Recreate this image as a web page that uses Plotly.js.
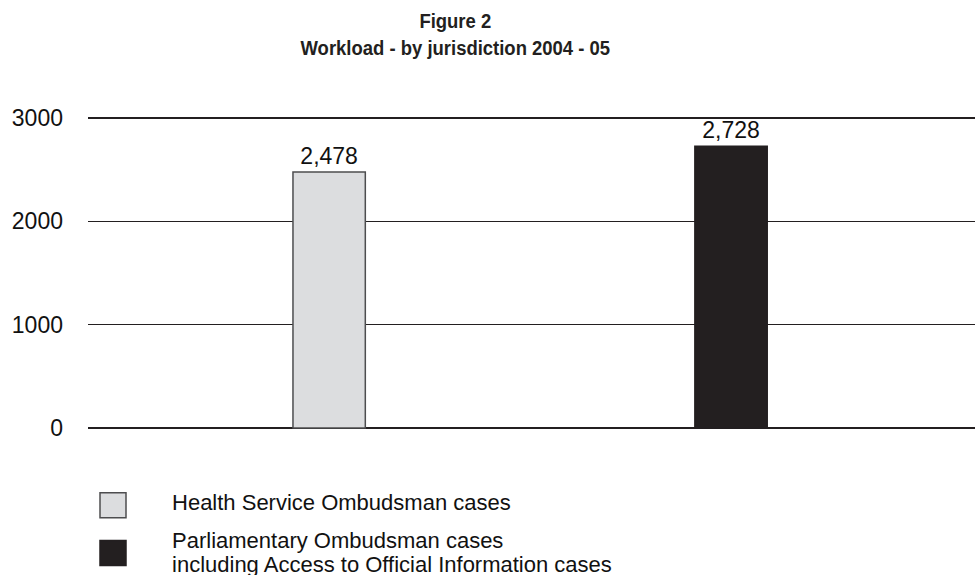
<!DOCTYPE html>
<html>
<head>
<meta charset="utf-8">
<script src="https://cdn.plot.ly/plotly-3.0.1.min.js"></script>
<style>html,body{margin:0;padding:0;background:#fff;}#chart{width:975px;height:575px;}</style>
</head>
<body>
<div id="chart"></div>
<script>
const categories = ["Health Service Ombudsman cases", "Parliamentary Ombudsman cases<br>including Access to Official Information cases"];
const positions = [0, 1];
const values = [2478, 2728];
const barLabels = ["2,478", "2,728"];
const yTicks = [0, 1000, 2000, 3000];
const yTickLabels = ["0", "1000", "2000", "3000"];
const fillColors = ["#dcdddf", "#231f20"];
const lineColors = ["#4d4d4f", "#231f20"];

const traces = categories.map((name, i) => ({
  type: "bar",
  name: name,
  legendgroup: "g" + i,
  x: [positions[i]],
  y: [values[i]],
  text: [barLabels[i]],
  textposition: "outside",
  texttemplate: "%{text}",
  constraintext: "none",
  textfont: {family: "Liberation Sans, Arial, sans-serif", size: 23, color: "#111"},
  cliponaxis: false,
  width: 0.18,
  marker: {color: fillColors[i], line: {color: lineColors[i], width: 1.5}},
  hoverinfo: "skip"
}));

const layout = {
  width: 975, height: 575,
  paper_bgcolor: "#fff", plot_bgcolor: "#fff",
  margin: {l: 88, r: 0, t: 115, b: 144, autoexpand: false},
  font: {family: "Liberation Sans, Arial, sans-serif", size: 22, color: "#111"},
  title: {
    text: "<b>Figure 2</b><br><b>Workload - by jurisdiction 2004 - 05</b>",
    font: {family: "Liberation Sans, Arial, sans-serif", size: 21, color: "#231f20"},
    x: 0.467, xanchor: "center", xref: "container",
    y: 0.952, yanchor: "top", yref: "container"
  },
  xaxis: {
    range: [-0.6, 1.607], showticklabels: false, showgrid: false,
    zeroline: false, showline: false, ticks: "", fixedrange: true
  },
  yaxis: {
    range: [-30, 3030], tickvals: yTicks, ticktext: yTickLabels,
    showgrid: true, gridcolor: "#231f20", gridwidth: 1.5,
    zeroline: true, zerolinecolor: "#231f20", zerolinewidth: 2.5,
    showline: false, ticks: "", ticklabelstandoff: 24,
    tickfont: {size: 23, color: "#111"}, fixedrange: true
  },
  bargap: 0,
  showlegend: true,
  legend: {
    xref: "container", yref: "container",
    x: 0.0677, xanchor: "left", y: 0.1645, yanchor: "top",
    orientation: "v", itemwidth: 96, traceorder: "grouped",
    font: {size: 22, color: "#111"}, tracegroupgap: 7,
    bgcolor: "rgba(0,0,0,0)", itemclick: false, itemdoubleclick: false
  }
};

Plotly.newPlot("chart", traces, layout, {displayModeBar: false, staticPlot: true}).then(gd => {
  const symbolPaths = ["M7,16.5H-19V-8.5H7Z", "M7,11.5H-19V-13.5H7Z"];
  gd.querySelectorAll(".legend .legendpoints path").forEach((p, k) => {
    p.setAttribute("d", symbolPaths[k] || symbolPaths[0]);
  });
  gd.querySelectorAll(".legend .legendtext tspan.line").forEach(t => {
    const dy = t.getAttribute("dy");
    if (dy && parseFloat(dy) > 0) t.setAttribute("dy", "1.05em");
  });
  const title = gd.querySelector(".gtitle");
  if (title) {
    const cx = parseFloat(title.getAttribute("x")) || 0;
    const prev = title.getAttribute("transform") || "";
    title.setAttribute("transform", prev + " translate(" + cx + ",0) scale(0.88,1) translate(" + (-cx) + ",0)");
  }
});
</script>
</body>
</html>
